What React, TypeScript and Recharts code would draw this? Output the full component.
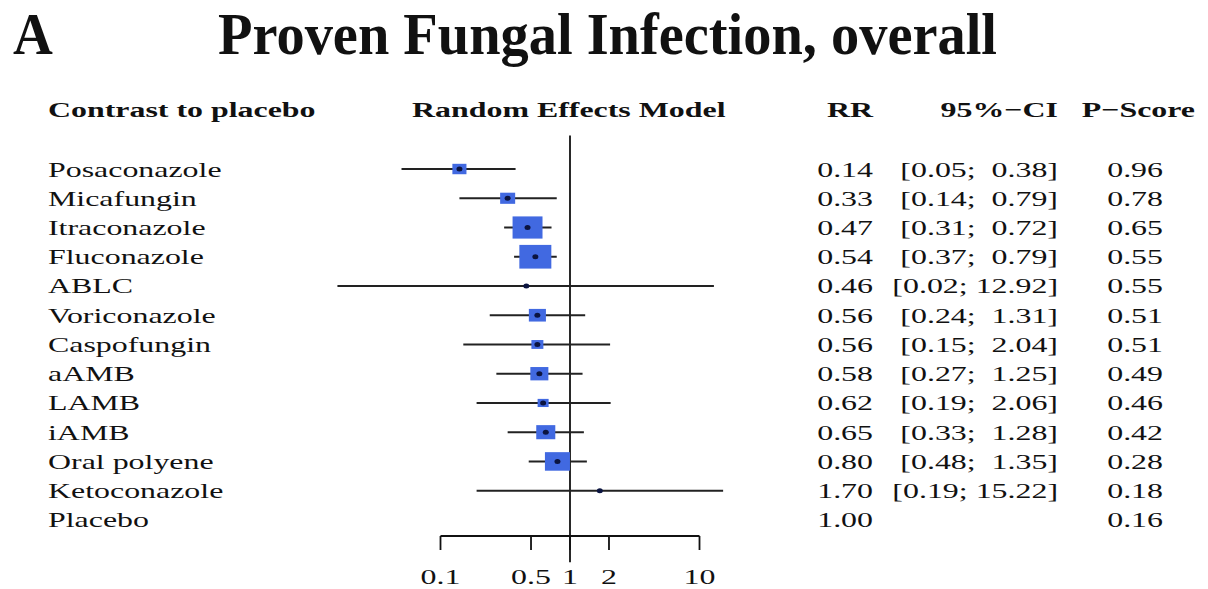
import {
  ComposedChart,
  Customized,
  ErrorBar,
  ReferenceLine,
  Scatter,
  XAxis,
  YAxis,
  ZAxis,
} from "recharts";

const treatments = [
  "Posaconazole",
  "Micafungin",
  "Itraconazole",
  "Fluconazole",
  "ABLC",
  "Voriconazole",
  "Caspofungin",
  "aAMB",
  "LAMB",
  "iAMB",
  "Oral polyene",
  "Ketoconazole",
  "Placebo",
];
const rr = [0.14, 0.33, 0.47, 0.54, 0.46, 0.56, 0.56, 0.58, 0.62, 0.65, 0.8, 1.7, 1.0];
const ciLow = [0.05, 0.14, 0.31, 0.37, 0.016, 0.24, 0.15, 0.27, 0.19, 0.33, 0.48, 0.19, null];
const ciHigh = [0.38, 0.79, 0.72, 0.79, 12.92, 1.31, 2.04, 1.25, 2.06, 1.28, 1.35, 15.22, null];
const pScore = [0.96, 0.78, 0.65, 0.55, 0.55, 0.51, 0.51, 0.49, 0.46, 0.42, 0.28, 0.18, 0.16];
// relative weight of each contrast (drives square area)
const weight = [3.6, 4.1, 16.3, 18.6, 0.3, 5.3, 2.6, 5.9, 2.2, 6.6, 11.4, 0.3, 0];
const xTicks = [0.1, 0.5, 1, 2, 10];

const rows = treatments.map((name, i) => ({
  row: i + 1,
  name,
  rr: rr[i],
  lo: ciLow[i],
  hi: ciHigh[i],
  w: weight[i],
  err: ciLow[i] == null ? undefined : [rr[i] - (ciLow[i] as number), (ciHigh[i] as number) - rr[i]],
}));
const plotted = rows.filter((r) => r.lo != null);
const rowTicks = rows.map((r) => r.row);

const FONT = "'Liberation Serif', 'Times New Roman', Times, serif";
const SX = 1.45;

function T({
  x,
  y,
  children,
  anchor = "start",
  bold = false,
  size = 22,
  sx = SX,
}: {
  x: number;
  y: number;
  children: any;
  anchor?: "start" | "middle" | "end";
  bold?: boolean;
  size?: number;
  sx?: number;
}) {
  return (
    <text
      transform={`translate(${x},${y}) scale(${sx},1)`}
      textAnchor={anchor}
      fontFamily={FONT}
      fontSize={size}
      fontWeight={bold ? "bold" : "normal"}
      fill="#111"
      style={{ whiteSpace: "pre" }}
    >
      {children}
    </text>
  );
}

const fmt = (v: number) => v.toFixed(2);

// one tick per row: name on the left, RR / CI / P-score on the right
const RowTick = (props: any) => {
  const i = props.payload.value - 1;
  const y = props.y + 7.5;
  const lo = ciLow[i];
  const hi = ciHigh[i];
  return (
    <g>
      <T x={48} y={y}>{treatments[i]}</T>
      <T x={873} y={y} anchor="end">{fmt(rr[i])}</T>
      {lo != null && hi != null && (
        <T x={1058} y={y} anchor="end">{`[${fmt(lo)}; ${fmt(hi).padStart(5, " ")}]`}</T>
      )}
      <T x={1163} y={y} anchor="end">{fmt(pScore[i])}</T>
    </g>
  );
};

const XTick = (props: any) => (
  <T x={props.x} y={584} anchor="middle">{String(props.payload.value)}</T>
);

const Square = (props: any) => {
  const { cx, cy, size } = props;
  const h = 2 * Math.sqrt(Math.max(size, 0) / Math.PI);
  const w = h * 1.35;
  return <rect x={cx - w / 2} y={cy - h / 2} width={w} height={h} fill="#4169E1" />;
};

const Point = (props: any) => (
  <ellipse cx={props.cx} cy={props.cy} rx={3} ry={2.5} fill="#0b1440" />
);

const Headers = () => (
  <g>
    <T x={13} y={54} size={60} sx={0.92} bold>A</T>
    <T x={218} y={54} size={60} sx={0.94} bold>Proven Fungal Infection, overall</T>
    <T x={48} y={117} bold>Contrast to placebo</T>
    <T x={412} y={117} bold>Random Effects Model</T>
    <T x={873} y={117} anchor="end" bold>RR</T>
    <T x={1058} y={117} anchor="end" bold>95%−CI</T>
    <T x={1195} y={117} anchor="end" bold>P−Score</T>
  </g>
);

export default function App() {
  return (
    <div style={{ position: "absolute", left: 0, top: 0, background: "#fff" }}>
      <ComposedChart
        width={1208}
        height={589}
        margin={{ top: 154.4, right: 379, bottom: 23, left: 0 }}
      >
        <XAxis
          type="number"
          dataKey="rr"
          scale="log"
          domain={[0.01, 100]}
          ticks={xTicks}
          axisLine={false}
          tickLine={{ stroke: "#111", strokeWidth: 1.8 }}
          tickSize={14}
          tick={<XTick />}
          height={30}
        />
        <YAxis
          yAxisId="left"
          type="number"
          dataKey="row"
          domain={[0.5, 13.55]}
          reversed
          ticks={rowTicks}
          width={311}
          axisLine={false}
          tickLine={false}
          tick={<RowTick />}
          interval={0}
        />
        <ZAxis type="number" dataKey="w" domain={[0, 20]} range={[0, 474]} />
        <ReferenceLine
          yAxisId="left"
          segment={[
            { x: 1, y: -0.15 },
            { x: 1, y: 14.45 },
          ]}
          ifOverflow="visible"
          stroke="#111"
          strokeWidth={1.8}
        />
        <ReferenceLine
          yAxisId="left"
          segment={[
            { x: 0.1, y: 13.55 },
            { x: 10, y: 13.55 },
          ]}
          ifOverflow="visible"
          stroke="#111"
          strokeWidth={1.8}
        />
        <Scatter
          yAxisId="left"
          data={plotted}
          shape={<Square />}
          isAnimationActive={false}
        />
        <Scatter
          yAxisId="left"
          data={plotted}
          shape={<Point />}
          isAnimationActive={false}
        >
          <ErrorBar dataKey="err" direction="x" width={0} stroke="#222" strokeWidth={2} />
        </Scatter>
        <Customized component={<Headers />} />
      </ComposedChart>
    </div>
  );
}
